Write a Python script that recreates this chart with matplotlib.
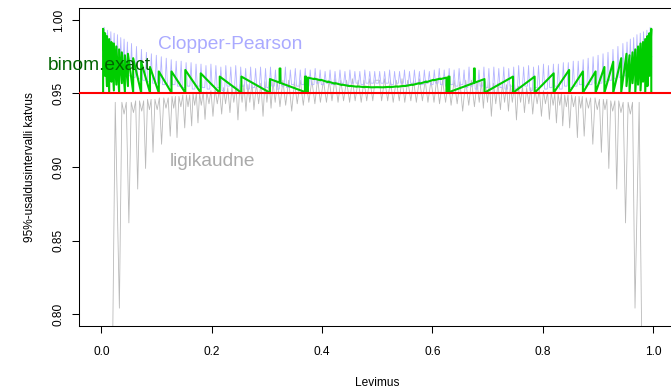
import matplotlib
matplotlib.use("Agg")
import matplotlib.pyplot as plt

plt.rcParams["font.family"] = ["Liberation Sans", "DejaVu Sans"]

# -----------------------------
# DATA (left half; the curves are symmetric about p = 0.5)
# -----------------------------
# Clopper-Pearson coverage: spike tops and the bases between them
cp_peak_p = [0.005, 0.011, 0.017, 0.023, 0.029, 0.035, 0.041, 0.047,
             0.0545, 0.0635, 0.0725, 0.0815, 0.0905, 0.0995, 0.1085, 0.1175, 0.1265, 0.1355,
             0.1445, 0.1535, 0.1625, 0.1715, 0.1805, 0.1895, 0.1985, 0.2075, 0.2165, 0.2255,
             0.2345, 0.2435, 0.2525, 0.2615, 0.2705, 0.2795, 0.2885, 0.2975, 0.3065, 0.3155,
             0.3245, 0.3335, 0.3425, 0.3515, 0.3605, 0.3695, 0.3785, 0.3875, 0.3965, 0.4055,
             0.4145, 0.4235, 0.4325, 0.4415, 0.4505, 0.4595, 0.4685, 0.4775, 0.4865, 0.4955]
cp_peak = [0.995, 0.993, 0.992, 0.991, 0.990, 0.988, 0.987, 0.985,
           0.984, 0.982, 0.980, 0.978, 0.977, 0.976, 0.975, 0.974, 0.973, 0.972,
           0.972, 0.971, 0.971, 0.970, 0.970, 0.969, 0.970, 0.969, 0.968, 0.969,
           0.968, 0.969, 0.968, 0.967, 0.968, 0.967, 0.968, 0.967, 0.968, 0.966,
           0.967, 0.968, 0.966, 0.967, 0.966, 0.967, 0.966, 0.967, 0.966, 0.965,
           0.966, 0.965, 0.966, 0.965, 0.966, 0.965, 0.965, 0.966, 0.965, 0.965]
cp_base_p = [0.002, 0.008, 0.014, 0.020, 0.026, 0.032, 0.038, 0.044, 0.050,
             0.059, 0.068, 0.077, 0.086, 0.095, 0.104, 0.113, 0.122, 0.131, 0.140,
             0.149, 0.158, 0.167, 0.176, 0.185, 0.194, 0.203, 0.212, 0.221, 0.230,
             0.239, 0.248, 0.257, 0.266, 0.275, 0.284, 0.293, 0.302, 0.311, 0.320,
             0.329, 0.338, 0.347, 0.356, 0.365, 0.374, 0.383, 0.392, 0.401, 0.410,
             0.419, 0.428, 0.437, 0.446, 0.455, 0.464, 0.473, 0.482, 0.491, 0.500]
cp_base = [0.975, 0.972, 0.970, 0.968, 0.967, 0.965, 0.964, 0.963, 0.962,
           0.961, 0.960, 0.959, 0.958, 0.957, 0.957, 0.956, 0.955, 0.956, 0.955,
           0.954, 0.955, 0.953, 0.955, 0.954, 0.953, 0.955, 0.954, 0.952, 0.955,
           0.954, 0.953, 0.955, 0.953, 0.954, 0.955, 0.953, 0.954, 0.955, 0.953,
           0.955, 0.954, 0.956, 0.955, 0.956, 0.955, 0.956, 0.957, 0.956, 0.957,
           0.956, 0.957, 0.957, 0.956, 0.957, 0.957, 0.956, 0.957, 0.957, 0.957]

# Wald ("ligikaudne") coverage: troughs and the peaks between them
wald_low_p = [0.018, 0.0325, 0.041, 0.0497, 0.058, 0.0657, 0.073, 0.080, 0.087, 0.0935,
              0.101, 0.109, 0.117, 0.1247, 0.131, 0.137, 0.144, 0.151, 0.157, 0.1636,
              0.169, 0.175, 0.181, 0.1878, 0.195, 0.2022, 0.210, 0.218, 0.225, 0.233,
              0.240, 0.2475, 0.255, 0.262, 0.269, 0.2765, 0.285, 0.293, 0.300, 0.3075,
              0.315, 0.3237, 0.334, 0.345, 0.355, 0.366, 0.376, 0.387, 0.397, 0.408,
              0.418, 0.429, 0.439, 0.450, 0.460, 0.471, 0.481, 0.492]
wald_low = [0.700, 0.804, 0.936, 0.862, 0.937, 0.885, 0.938, 0.899, 0.939, 0.910,
            0.939, 0.9155, 0.940, 0.921, 0.940, 0.920, 0.941, 0.9266, 0.941, 0.928,
            0.942, 0.930, 0.942, 0.9324, 0.943, 0.9345, 0.943, 0.936, 0.943, 0.937,
            0.944, 0.932, 0.944, 0.938, 0.944, 0.939, 0.943, 0.9345, 0.944, 0.940,
            0.944, 0.941, 0.942, 0.938, 0.943, 0.942, 0.944, 0.943, 0.944, 0.944,
            0.945, 0.944, 0.945, 0.944, 0.945, 0.944, 0.945, 0.945]
wald_high_p = [0.025, 0.037, 0.045, 0.054, 0.062, 0.069, 0.0765, 0.0835, 0.090, 0.097,
               0.105, 0.113, 0.121, 0.128, 0.134, 0.1405, 0.1475, 0.154, 0.160, 0.166,
               0.172, 0.178, 0.1845, 0.191, 0.1985, 0.206, 0.214, 0.2215, 0.229, 0.2365,
               0.244, 0.251, 0.2585, 0.2655, 0.273, 0.281, 0.289, 0.2965, 0.304, 0.311,
               0.319, 0.329, 0.3395, 0.350, 0.3605, 0.371, 0.3815, 0.392, 0.4025, 0.413,
               0.4235, 0.434, 0.4445, 0.455, 0.4655, 0.476, 0.4865, 0.496]
wald_high = [0.944, 0.944, 0.944, 0.944, 0.945, 0.945, 0.945, 0.946, 0.946, 0.946,
             0.947, 0.947, 0.947, 0.948, 0.948, 0.948, 0.949, 0.949, 0.949, 0.950,
             0.950, 0.950, 0.951, 0.951, 0.952, 0.953, 0.953, 0.954, 0.954, 0.955,
             0.955, 0.956, 0.956, 0.956, 0.957, 0.957, 0.957, 0.958, 0.958, 0.958,
             0.958, 0.959, 0.959, 0.958, 0.959, 0.959, 0.959, 0.960, 0.959, 0.959,
             0.960, 0.959, 0.959, 0.960, 0.959, 0.959, 0.960, 0.959]

# binom.exact coverage: sawtooth vertices
exact_p = [0.003, 0.003, 0.0065, 0.0065, 0.010, 0.010, 0.014, 0.014, 0.018, 0.018,
           0.0225, 0.0225, 0.027, 0.027, 0.032, 0.032, 0.037, 0.037, 0.0425, 0.0425,
           0.048, 0.048, 0.0575, 0.0575, 0.072, 0.072, 0.088, 0.088, 0.104, 0.104,
           0.127, 0.127, 0.152, 0.152, 0.180, 0.180, 0.2145, 0.2145, 0.2537, 0.2537,
           0.3055, 0.3055, 0.323, 0.323, 0.3245, 0.3245, 0.369, 0.369, 0.371, 0.371,
           0.3744, 0.3744, 0.385, 0.386, 0.397, 0.398, 0.410, 0.411, 0.423, 0.424,
           0.436, 0.437, 0.450, 0.451, 0.463, 0.464, 0.477, 0.478, 0.490, 0.500]
exact_cov = [0.951, 0.994, 0.962, 0.991, 0.955, 0.989, 0.951, 0.987, 0.958, 0.985,
             0.952, 0.984, 0.956, 0.982, 0.951, 0.980, 0.957, 0.978, 0.951, 0.976,
             0.955, 0.977, 0.951, 0.974, 0.9505, 0.9716, 0.9505, 0.968, 0.9505, 0.965,
             0.9505, 0.965, 0.9505, 0.966, 0.9505, 0.9637, 0.9505, 0.9615, 0.9505, 0.9615,
             0.9505, 0.9598, 0.9574, 0.967, 0.967, 0.9572, 0.951, 0.9615, 0.9615, 0.9508,
             0.9508, 0.9608, 0.9598, 0.9601, 0.9590, 0.9593, 0.9578, 0.9581, 0.9567, 0.9570,
             0.9558, 0.9560, 0.9550, 0.9552, 0.9546, 0.9548, 0.9543, 0.9545, 0.9542, 0.9543]

x_ticks = [0.0, 0.2, 0.4, 0.6, 0.8, 1.0]
x_tick_labels = ["0.0", "0.2", "0.4", "0.6", "0.8", "1.0"]
y_ticks = [0.80, 0.85, 0.90, 0.95, 1.00]
y_tick_labels = ["0.80", "0.85", "0.90", "0.95", "1.00"]
nominal = 0.95

SPIKE_HALF = 0.0022  # half width of a Clopper-Pearson spike, in p units


def spiky(tip_p, tip_c, flat_p, flat_c, half=SPIKE_HALF):
    # narrow spikes (tips) standing on a line through the other points
    pts = sorted([(p, c, False) for p, c in zip(flat_p, flat_c)] +
                 [(p, c, True) for p, c in zip(tip_p, tip_c)])
    xs, ys = [], []
    for i, (p, c, tip) in enumerate(pts):
        if tip:
            before = pts[i - 1][1] if i > 0 else pts[i + 1][1]
            after = pts[i + 1][1] if i + 1 < len(pts) else before
            xs += [p - half, p, p + half]
            ys += [before, c, after]
        else:
            xs.append(p)
            ys.append(c)
    return xs, ys


def zigzag(pa, ca, pb, cb):
    pts = sorted(zip(list(pa) + list(pb), list(ca) + list(cb)))
    return [p for p, _ in pts], [c for _, c in pts]


def mirror(p, c):
    # coverage of a binomial CI is symmetric in p -> 1 - p
    return list(p) + [1 - v for v in p[::-1]], list(c) + list(c[::-1])


cp_x, cp_y = mirror(*spiky(cp_peak_p, cp_peak, cp_base_p, cp_base))
wald_x, wald_y = mirror(*zigzag(wald_low_p, wald_low, wald_high_p, wald_high))
ex_x, ex_y = mirror(exact_p, exact_cov)

# -----------------------------
# PLOT
# -----------------------------
W, H = 671, 390
fig = plt.figure(figsize=(W / 100, H / 100), dpi=100)
ax = fig.add_axes([79.4 / W, (H - 325.8) / H, 595.6 / W, 317.6 / H])

ax.plot(wald_x, wald_y, color="#bababa", lw=0.6, zorder=2)
ax.plot(cp_x, cp_y, color="#b4b4ff", lw=0.6, zorder=3)
ax.plot(ex_x, ex_y, color="#00cd00", lw=1.5, zorder=4)
ax.axhline(nominal, color="red", lw=1.5, zorder=5)

ax.text(0.233, 0.9833, "Clopper-Pearson", color="#aaaaff", fontsize=13.8,
        ha="center", va="center", zorder=6)
ax.text(-0.004, 0.9689, "binom.exact", color="#006400", fontsize=13.8,
        ha="center", va="center", zorder=6)
ax.text(0.202, 0.9037, "ligikaudne", color="#aaaaaa", fontsize=13.8,
        ha="center", va="center", zorder=6)

ax.set_xlim(-0.04, 1.04)
ax.set_ylim(0.792, 1.008)
ax.set_xticks(x_ticks)
ax.set_xticklabels(x_tick_labels)
ax.set_yticks(y_ticks)
ax.set_yticklabels(y_tick_labels, rotation=90, va="center")
ax.tick_params(length=5, width=0.75, labelsize=8.6, colors="black")
ax.tick_params(axis="x", pad=9.5)
ax.tick_params(axis="y", pad=5.5)
for s in ax.spines.values():
    s.set_linewidth(0.75)

ax.set_xlabel("Levimus", fontsize=8.6, labelpad=14)
ax.set_ylabel("95%-usaldusintervalli katvus", fontsize=8.6, labelpad=12)

fig.savefig("out.png", dpi=100)
